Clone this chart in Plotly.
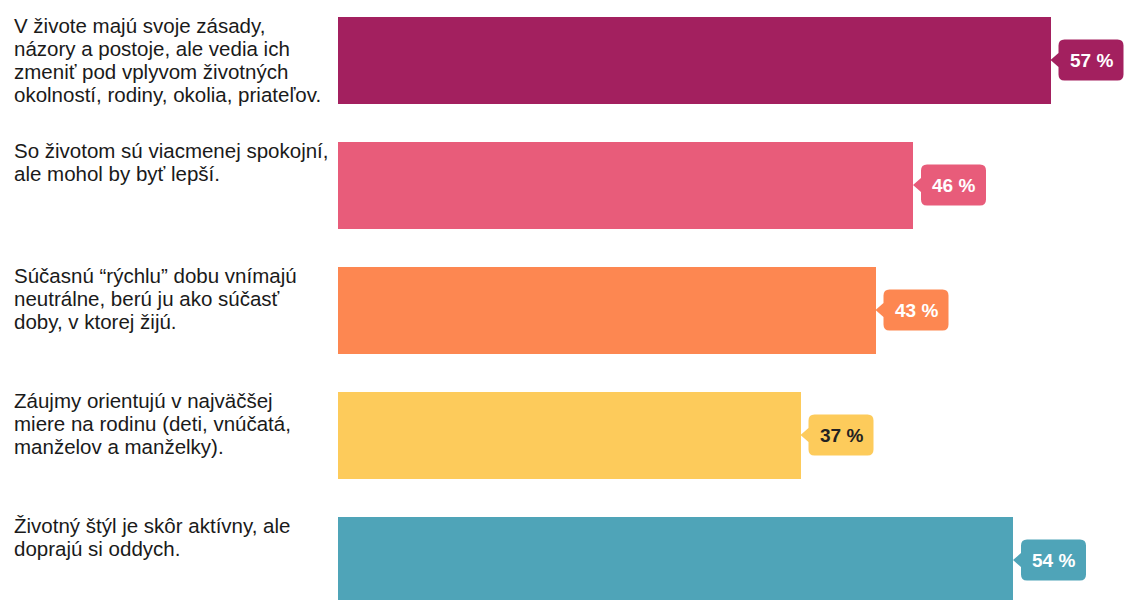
import plotly.graph_objects as go

labels = [
    ["V živote majú svoje zásady,", "názory a postoje, ale vedia ich",
     "zmeniť pod vplyvom životných", "okolností, rodiny, okolia, priateľov."],
    ["So životom sú viacmenej spokojní,", "ale mohol by byť lepší."],
    ["Súčasnú “rýchlu” dobu vnímajú", "neutrálne, berú ju ako súčasť",
     "doby, v ktorej žijú."],
    ["Záujmy orientujú v najväčšej", "miere na rodinu (deti, vnúčatá,",
     "manželov a manželky)."],
    ["Životný štýl je skôr aktívny, ale", "doprajú si oddych."],
]
values = [57, 46, 43, 37, 54]
colors = ["#A3205F", "#E85C7A", "#FD8751", "#FDCB5B", "#4FA4B8"]
text_colors = ["white", "white", "white", "#222222", "white"]

pos = list(range(len(values)))
BAR_W = 0.696

fig = go.Figure()
fig.add_trace(go.Bar(
    x=values, y=pos, orientation="h", width=BAR_W,
    marker=dict(color=colors, line=dict(width=0)),
    hoverinfo="skip",
))

# callout path (pixel coordinates relative to the bar end)
bw, bh, tip, ah, r = 65, 41, 8, 7, 6
x0, x1 = tip, tip + bw
y0, y1 = -bh / 2, bh / 2
path = (
    f"M 0 0 L {x0} {ah} L {x0} {y1 - r} Q {x0} {y1} {x0 + r} {y1} "
    f"L {x1 - r} {y1} Q {x1} {y1} {x1} {y1 - r} "
    f"L {x1} {y0 + r} Q {x1} {y0} {x1 - r} {y0} "
    f"L {x0 + r} {y0} Q {x0} {y0} {x0} {y0 + r} L {x0} {-ah} Z"
)

LINE_H = 23
for i, (v, c, tc, lines) in enumerate(zip(values, colors, text_colors, labels)):
    fig.add_shape(
        type="path", xref="x", yref="y",
        xsizemode="pixel", ysizemode="pixel",
        xanchor=v, yanchor=i, path=path,
        fillcolor=c, line=dict(width=0), layer="above",
    )
    fig.add_annotation(
        x=v, y=i, xref="x", yref="y", text=f"<b>{v} %</b>",
        showarrow=False, xanchor="center", yanchor="middle",
        xshift=tip + bw / 2, font=dict(family="Arial, Liberation Sans", size=19, color=tc),
    )
    for k, line in enumerate(lines):
        fig.add_annotation(
            x=-0.4142, xref="paper", y=i - BAR_W / 2, yref="y",
            text=line, showarrow=False, xanchor="left", yanchor="middle", align="left",
            yshift=-(9 + k * LINE_H),
            font=dict(family="Arial, Liberation Sans", size=20.5, color="#1a1a1a"),
        )

fig.update_layout(
    width=1125, height=600,
    margin=dict(l=338, r=0, t=0, b=0),
    paper_bgcolor="white", plot_bgcolor="white",
    showlegend=False,
    xaxis=dict(range=[0, 787 / 12.5], visible=False, fixedrange=True),
    yaxis=dict(range=[4.32, -0.48], visible=False, fixedrange=True),
    bargap=0,
)

fig.write_html("out.html")
